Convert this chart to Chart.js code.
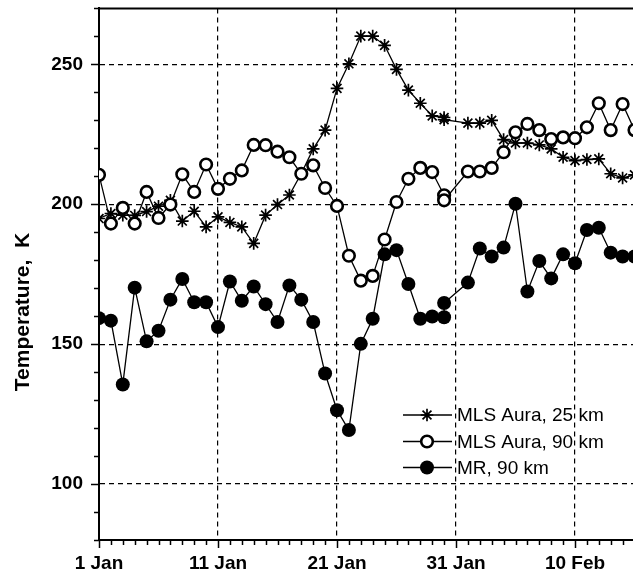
<!DOCTYPE html>
<html>
<head>
<meta charset="utf-8">
<script src="https://cdn.jsdelivr.net/npm/chart.js@4.4.1/dist/chart.umd.min.js"></script>
<style>
  html, body { margin: 0; padding: 0; background: #ffffff; overflow: hidden; width: 633px; height: 578px; }
  #wrap { position: absolute; left: 0; top: 0; width: 668px; height: 578px; }
</style>
</head>
<body>
<div id="wrap"><canvas id="c" width="668" height="578"></canvas></div>
<script>
// ---- data (day offset from 1 Jan) ----
const dayOffsets = [0,1,2,3,4,5,6,7,8,9,10,11,12,13,14,15,16,17,18,19,20,21,22,23,24,25,26,27,28,29,29,31,32,33,34,35,36,37,38,39,40,41,42,43,44,45];
const mlsAura25 = [194.9,196.7,196.1,196,197.4,199.3,201.4,194,197.5,191.9,195.5,193.5,191.9,186,196.1,199.9,203.3,211,219.8,226.5,241.4,250.2,260.1,260.1,256.8,248.2,240.8,236.1,231.6,231,230.2,229,229,230,223.1,221.9,221.9,221.2,219.8,216.8,215.6,216,216.2,210.9,209.4,210.5];
const mlsAura90 = [210.5,193.1,198.7,193.1,204.4,195.1,199.9,210.7,204.4,214.2,205.5,209.1,212.1,221.2,221.1,218.8,216.8,210.9,213.9,205.8,199.4,181.6,172.7,174.4,187.4,200.8,209.1,213,211.5,203.2,201.4,211.7,211.7,213,218.6,225.7,228.7,226.5,223.3,223.9,223.6,227.5,236.1,226.5,235.8,226.5];
const mr90 = [159.3,158.4,135.6,170.2,151,154.8,165.9,173.3,165,165,156.1,172.4,165.5,170.6,164.3,157.9,171,165.9,157.9,139.5,126.4,119.3,150.1,159.1,182.1,183.6,171.5,159.1,159.9,159.6,164.7,172,184.2,181.3,184.5,200.2,168.8,179.7,173.5,182.1,178.9,190.8,191.6,182.7,181.3,181.3];
const seriesNames = ['MLS Aura, 25 km', 'MLS Aura, 90 km', 'MR, 90 km'];
const xTickDays = [0, 10, 20, 30, 40];
const xTickLabels = ['1 Jan', '11 Jan', '21 Jan', '31 Jan', '10 Feb'];
const yTickValues = [100, 150, 200, 250];
const yTitle = 'Temperature,  K';

const PX_PER_DAY = 11.9;
const toPts = (vals) => vals.map((v, i) => ({ x: dayOffsets[i], y: v }));
const FONT = "'Liberation Sans', Arial, Helvetica, sans-serif";

const datasets = [
  { label: seriesNames[0], data: toPts(mlsAura25), order: 3,
    borderColor: '#000', borderWidth: 1.3, backgroundColor: '#000',
    pointStyle: 'star', pointRadius: 6.3, pointBorderWidth: 1.7, pointBorderColor: '#000' },
  { label: seriesNames[1], data: toPts(mlsAura90), order: 2,
    borderColor: '#000', borderWidth: 1.3, backgroundColor: '#fff',
    pointStyle: 'circle', pointRadius: 5.8, pointBorderWidth: 2.6, pointBorderColor: '#000', pointBackgroundColor: '#fff' },
  { label: seriesNames[2], data: toPts(mr90), order: 1,
    borderColor: '#000', borderWidth: 1.3, backgroundColor: '#000',
    pointStyle: 'circle', pointRadius: 7, pointBorderWidth: 0, pointBorderColor: '#000', pointBackgroundColor: '#000' }
];

const decor = {
  id: 'decor',
  afterDraw(chart) {
    const ctx = chart.ctx;
    const a = chart.chartArea;
    const xs = chart.scales.x, ys = chart.scales.y;
    ctx.save();
    ctx.strokeStyle = '#000'; ctx.lineWidth = 2;
    ctx.beginPath(); ctx.moveTo(a.left - 1, a.top); ctx.lineTo(a.right, a.top); ctx.stroke();
    ctx.lineWidth = 1.5;
    xs.ticks.forEach(t => {
      if (Math.abs(t.value - Math.round(t.value)) > 1e-6) return;
      const px = Math.round(xs.getPixelForValue(t.value)) + 0.5;
      const len = (t.value % 10 === 0) ? 8 : 5;
      ctx.beginPath(); ctx.moveTo(px, a.bottom); ctx.lineTo(px, a.bottom + len); ctx.stroke();
    });
    ys.ticks.forEach(t => {
      const py = Math.round(ys.getPixelForValue(t.value)) + 0.5;
      const len = (t.value % 50 === 0) ? 8 : 5;
      ctx.beginPath(); ctx.moveTo(a.left - len, py); ctx.lineTo(a.left, py); ctx.stroke();
    });
    ctx.fillStyle = '#000';
    ctx.font = 'bold 21px ' + FONT;
    ctx.textAlign = 'center'; ctx.textBaseline = 'middle';
    ctx.translate(23, 312); ctx.rotate(-Math.PI / 2);
    ctx.fillText(yTitle, 0, 0);
    ctx.restore();

    ctx.save();
    const rows = [415, 441.5, 467.5];
    chart.data.datasets.forEach((ds, i) => {
      const y = rows[i];
      ctx.strokeStyle = '#000'; ctx.lineWidth = 1.3;
      ctx.beginPath(); ctx.moveTo(403, y); ctx.lineTo(452, y); ctx.stroke();
      ctx.fillStyle = ds.pointBackgroundColor || ds.backgroundColor;
      ctx.strokeStyle = ds.pointBorderColor;
      ctx.lineWidth = ds.pointBorderWidth;
      Chart.helpers.drawPoint(ctx, { pointStyle: ds.pointStyle, radius: ds.pointRadius, borderWidth: ds.pointBorderWidth, rotation: 0 }, 427, y);
      ctx.fillStyle = '#000';
      ctx.font = '19px ' + FONT;
      ctx.textAlign = 'left'; ctx.textBaseline = 'middle';
      ctx.fillText(ds.label, 457, y + 1);
    });
    ctx.restore();
  }
};

const chart = new Chart(document.getElementById('c'), {
  type: 'line',
  data: { datasets },
  options: {
    responsive: false,
    animation: false,
    devicePixelRatio: 1,
    layout: { padding: { left: 0, top: 5, right: 0, bottom: 0 } },
    plugins: { legend: { display: false }, tooltip: { enabled: false } },
    elements: { line: { tension: 0 } },
    scales: {
      x: {
        type: 'linear', min: 0, max: 47,
        border: { display: true, color: '#000', width: 2, dash: [5, 4] },
        grid: {
          drawTicks: false,
          color: (c) => (c.tick && c.tick.value % 10 === 0 && c.tick.value > 0) ? '#000' : 'rgba(0,0,0,0)',
          lineWidth: 1.2
        },
        ticks: {
          stepSize: 1, autoSkip: false, maxRotation: 0, minRotation: 0, padding: 12,
          color: '#000', font: { family: FONT, size: 19, weight: 'bold' },
          callback: (v) => { const k = xTickDays.indexOf(v); return k >= 0 ? xTickLabels[k] : ''; }
        },
        afterFit: (s) => { s.height = 38; s.paddingLeft = 0; s.paddingRight = 0; }
      },
      y: {
        type: 'linear', min: 80, max: 270,
        border: { display: true, color: '#000', width: 2, dash: [5, 4] },
        grid: {
          drawTicks: false,
          color: (c) => (c.tick && yTickValues.includes(c.tick.value)) ? '#000' : 'rgba(0,0,0,0)',
          lineWidth: 1.2
        },
        ticks: {
          stepSize: 10, autoSkip: false, padding: 16,
          color: '#000', font: { family: FONT, size: 19, weight: 'bold' },
          callback: (v) => yTickValues.includes(v) ? String(v) : ''
        },
        afterFit: (s) => { s.width = 99; s.paddingTop = 0; s.paddingBottom = 0; }
      }
    }
  },
  plugins: [decor]
});
// keep the day spacing of the reference (px per day) whatever the fitted chart area is
const ca = chart.chartArea;
chart.options.scales.x.max = (ca.right - ca.left) / PX_PER_DAY;
chart.update();
</script>
</body>
</html>
